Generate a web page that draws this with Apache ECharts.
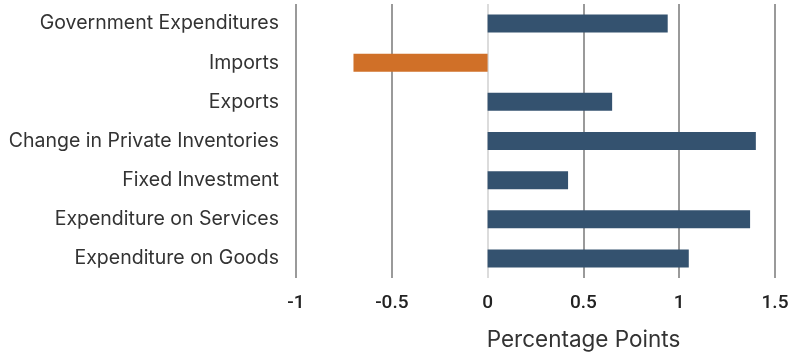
<!DOCTYPE html>
<html><head><meta charset="utf-8">
<script src="https://cdn.jsdelivr.net/npm/echarts@6/dist/echarts.min.js"></script>
<style>html,body{margin:0;padding:0;background:#fff}#c{width:800px;height:358px}</style>
</head><body><div id="c"></div>
<script>
const categories = ["Government Expenditures","Imports","Exports","Change in Private Inventories","Fixed Investment","Expenditure on Services","Expenditure on Goods"];
const values = [0.94, -0.70, 0.65, 1.40, 0.42, 1.37, 1.05];
const xTicks = [-1, -0.5, 0, 0.5, 1, 1.5];
const posColor = '#34526F';
const negColor = '#D07028';

const chart = echarts.init(document.getElementById('c'));
chart.setOption({
  animation: false,
  grid: {left: 296, right: 25, top: 4, bottom: 80},
  xAxis: {
    type: 'value', min: -1, max: 1.5, interval: 0.5,
    name: 'Percentage Points', nameLocation: 'middle', nameGap: 51,
    nameTextStyle: {fontFamily: 'Inter', fontSize: 22.5, color: '#333', padding: [0, 0, 0, 96]},
    axisLine: {show: false}, axisTick: {show: false},
    axisLabel: {fontFamily: 'Roboto', fontSize: 19, fontWeight: 500, color: '#222', margin: 16,
      formatter: v => xTicks.includes(v) ? String(v) : ''},
    splitLine: {show: true, lineStyle: {color: ['#9a9a9a','#9a9a9a','#dcdcdc','#9a9a9a','#9a9a9a','#9a9a9a'], width: 2}}
  },
  yAxis: {
    type: 'category', data: categories, inverse: true,
    axisLine: {show: false}, axisTick: {show: false},
    axisLabel: {fontFamily: 'Inter', fontSize: 19.5, color: '#333', margin: 17}
  },
  series: [{
    type: 'bar', barWidth: 18,
    data: values.map(v => ({value: v, itemStyle: {color: v < 0 ? negColor : posColor}}))
  }]
});
</script></body></html>
